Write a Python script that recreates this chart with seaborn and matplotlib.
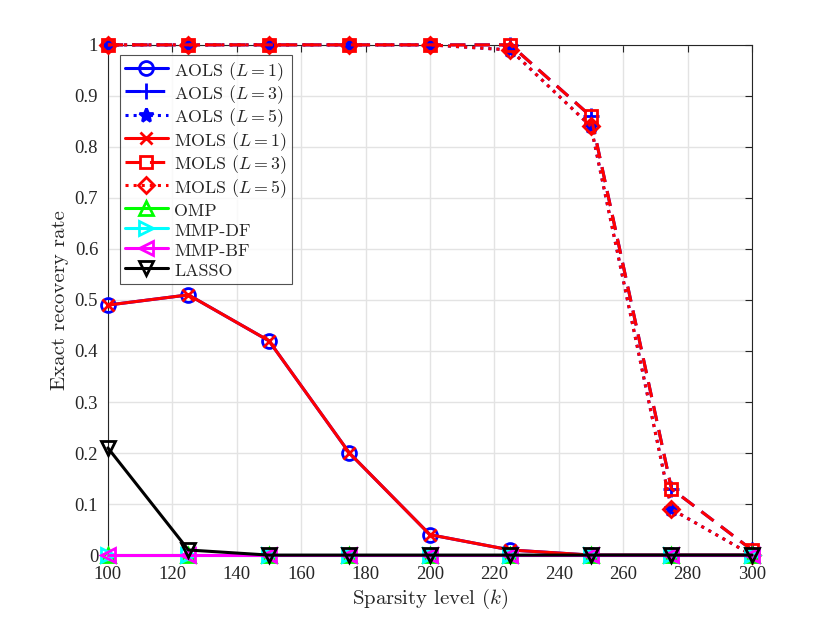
import numpy as np
import pandas as pd
import matplotlib
matplotlib.use("Agg")
import matplotlib.pyplot as plt
import seaborn as sns

sparsity = [100, 125, 150, 175, 200, 225, 250, 275, 300]
aols_l1 = [0.49, 0.51, 0.42, 0.20, 0.04, 0.01, 0.0, 0.0, 0.0]
aols_l3 = [1.0, 1.0, 1.0, 1.0, 1.0, 1.0, 0.86, 0.13, 0.01]
aols_l5 = [1.0, 1.0, 1.0, 1.0, 1.0, 0.99, 0.84, 0.09, 0.0]
mols_l1 = [0.49, 0.51, 0.42, 0.20, 0.04, 0.01, 0.0, 0.0, 0.0]
mols_l3 = [1.0, 1.0, 1.0, 1.0, 1.0, 1.0, 0.86, 0.13, 0.01]
mols_l5 = [1.0, 1.0, 1.0, 1.0, 1.0, 0.99, 0.84, 0.09, 0.0]
omp = [0, 0, 0, 0, 0, 0, 0, 0, 0]
mmp_df = [0, 0, 0, 0, 0, 0, 0, 0, 0]
mmp_bf = [0, 0, 0, 0, 0, 0, 0, 0, 0]
lasso = [0.21, 0.01, 0, 0, 0, 0, 0, 0, 0]

labels = [r"AOLS ($L=1$)", r"AOLS ($L=3$)", r"AOLS ($L=5$)",
          r"MOLS ($L=1$)", r"MOLS ($L=3$)", r"MOLS ($L=5$)",
          "OMP", "MMP-DF", "MMP-BF", "LASSO"]
series = [aols_l1, aols_l3, aols_l5, mols_l1, mols_l3, mols_l5,
          omp, mmp_df, mmp_bf, lasso]
x_ticks = list(range(100, 301, 20))
y_ticks = [round(v * 0.1, 1) for v in range(11)]

styles = [
    ("#0000ff", "o", "-", 10),
    ("#0000ff", "+", (0, (5, 3)), 11),
    ("#0000ff", "*", ":", 10),
    ("#ff0000", "x", "-", 8),
    ("#ff0000", "s", (0, (5, 3)), 9),
    ("#ff0000", "D", ":", 8),
    ("#00ff00", "^", "-", 10),
    ("#00ffff", ">", "-", 10),
    ("#ff00ff", "<", "-", 10),
    ("#000000", "v", "-", 10),
]

rows = []
for lab, vals in zip(labels, series):
    for xv, yv in zip(sparsity, vals):
        rows.append({"k": xv, "rate": yv, "alg": lab})
df = pd.DataFrame(rows)

sns.set_style("white")
plt.rcParams["font.family"] = ["cmr10", "DejaVu Serif"]
plt.rcParams["mathtext.fontset"] = "cm"
plt.rcParams["axes.formatter.use_mathtext"] = True

fig = plt.figure(figsize=(8.3, 6.23), dpi=100)
ax = fig.add_axes([0.13, 0.109, 0.776, 0.819])

for lab, (c, m, ls, ms) in zip(labels, styles):
    sub = df[df["alg"] == lab]
    sns.lineplot(data=sub, x="k", y="rate", ax=ax, color=c, marker=m,
                 linestyle=ls, linewidth=2.2, markersize=ms,
                 markerfacecolor="none" if m not in ("*", "+", "x") else c,
                 markeredgecolor=c, markeredgewidth=2.0, label=lab,
                 clip_on=False, errorbar=None, zorder=3)

ax.set_xlim(100, 300)
ax.set_ylim(0, 1)
ax.set_xticks(x_ticks)
ax.set_yticks(y_ticks)
tick_font = {"family": ["Liberation Serif", "DejaVu Serif"], "size": 13.5}
ax.set_xticklabels([str(t) for t in x_ticks], fontdict=tick_font)
ax.set_yticklabels(["0" if t == 0 else ("1" if t == 1 else f"{t:.1f}") for t in y_ticks],
                   fontdict=tick_font)
ax.grid(True, color="#e3e3e3", linewidth=1.0)
ax.set_axisbelow(True)
ax.tick_params(direction="in", top=True, right=True, length=5, width=0.8,
               colors="#262626", labelcolor="#262626")
ax.tick_params(axis="x", pad=8)
ax.tick_params(axis="y", pad=7)
for s in ax.spines.values():
    s.set_color("#262626")
    s.set_linewidth(0.8)
ax.set_xlabel(r"Sparsity level ($k$)", fontsize=15, color="#262626", labelpad=3)
ax.set_ylabel("Exact recovery rate", fontsize=15, color="#262626", labelpad=4)

leg = ax.legend(loc="upper left", bbox_to_anchor=(0.0186, 0.980), fontsize=12.9,
                frameon=True, fancybox=False, edgecolor="#262626",
                borderpad=0.28, labelspacing=0.04, handlelength=2.4,
                handleheight=1.27, handletextpad=0.35, borderaxespad=0)
leg.get_frame().set_linewidth(0.8)
leg.set_zorder(5)

fig.savefig("out.png", dpi=100)
